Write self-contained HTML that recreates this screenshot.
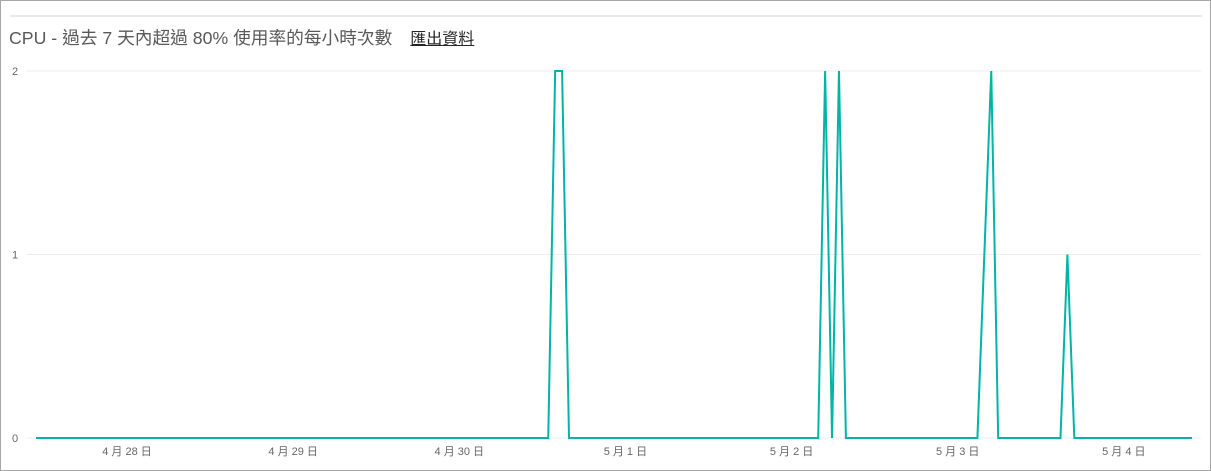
<!DOCTYPE html>
<html><head><meta charset="utf-8">
<style>
html,body{margin:0;padding:0;background:#fff;}
#wrap{position:relative;width:1209px;height:469px;border:1px solid #a6a6a6;overflow:hidden;font-family:"Liberation Sans","Noto Sans CJK TC",sans-serif;}
#topline{position:absolute;left:9px;top:14px;width:1192px;height:2px;background:#e8e8e8;}
#header{position:absolute;left:8px;top:23px;display:flex;align-items:baseline;white-space:nowrap;}
#title{font-size:17.7px;color:#595959;}
#export{margin-left:18px;font-size:16px;color:#252525;text-decoration:underline;}
svg{position:absolute;left:0;top:0;}
</style></head><body>
<div id="wrap">
<div id="topline"></div>
<div id="header">
<span id="title">CPU - 過去 7 天內超過 80% 使用率的每小時次數</span>
<a id="export">匯出資料</a>
</div>
<svg id="chart" width="1209" height="469"></svg>
</div>
<script>
const yTicks=[0,1,2];
const dayLabels=["4 月 28 日","4 月 29 日","4 月 30 日","5 月 1 日","5 月 2 日","5 月 3 日","5 月 4 日"];
const startHourOfDay=10.85;
const pointCount=168;
const spikeHours=[75,76,114,116,137,138,149];
const spikeValues=[2,2,2,2,1,2,1];
const values=new Array(pointCount).fill(0);
spikeHours.forEach((h,i)=>{values[h]=spikeValues[i];});

const NS="http://www.w3.org/2000/svg";
const svg=document.getElementById('chart');
const x0=35,x1=1191,yTop=70,yBot=437;
const xs=i=>x0+(x1-x0)*i/(pointCount-1);
const ys=v=>yBot-(yBot-yTop)*v/2;
function mk(t,a){const e=document.createElementNS(NS,t);for(const k in a)e.setAttribute(k,a[k]);svg.appendChild(e);return e;}
yTicks.forEach(v=>{
  const g=mk('line',{x1:26,x2:1200,y1:ys(v),y2:ys(v),stroke:'#ececec','stroke-width':1});
  
  
  const t=mk('text',{x:11,y:ys(v)+4,'font-size':11,fill:'#666','font-family':'Liberation Sans,sans-serif'});
  t.textContent=v;
  
  
});
dayLabels.forEach((d,k)=>{
  const h=24*(k+1)-startHourOfDay;
  const t=mk('text',{x:xs(h),y:454,'font-size':11,fill:'#666','text-anchor':'middle','font-family':'Liberation Sans,Noto Sans CJK TC,sans-serif'});
  t.textContent=d;
  
  
});
const pts=values.map((v,i)=>xs(i).toFixed(2)+','+ys(v).toFixed(2)).join(' ');
const pl=mk('polyline',{points:pts,fill:'none',stroke:'#00b5a6','stroke-width':2,'stroke-linejoin':'miter'});


</script>
</body></html>
